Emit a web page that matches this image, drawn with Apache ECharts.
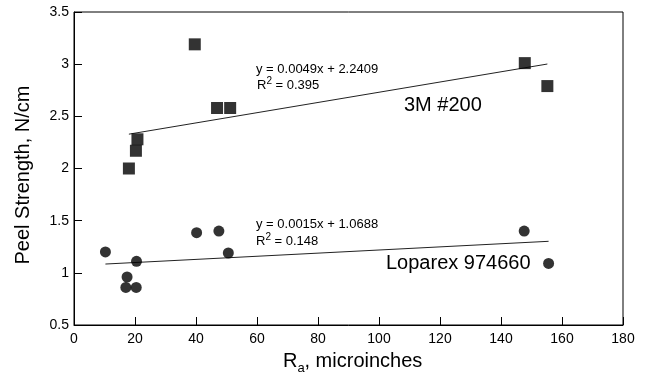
<!DOCTYPE html>
<html>
<head>
<meta charset="utf-8">
<script src="https://cdn.jsdelivr.net/npm/echarts@6/dist/echarts.min.js"></script>
<style>
html,body{margin:0;padding:0;background:#fff;}
#chart{width:649px;height:377px;}
</style>
</head>
<body>
<div id="chart"></div>
<script>
// ---- data ----
var x3M = [18.0, 20.3, 20.8, 39.6, 46.9, 51.2, 147.8, 155.2];
var y3M = [2.00, 2.17, 2.28, 3.19, 2.58, 2.58, 3.01, 2.79];
var xLop = [10.3, 17.4, 17.0, 20.5, 20.4, 40.2, 47.5, 50.6, 147.6, 155.6];
var yLop = [1.20, 0.96, 0.86, 1.11, 0.86, 1.385, 1.40, 1.19, 1.40, 1.09];
// trendline equations shown in the chart
var fit3M = {slope: 0.0049, intercept: 2.2409, r2: '0.395'};
var fitLop = {slope: 0.0015, intercept: 1.0688, r2: '0.148'};
var xTicks = {min: 0, max: 180, interval: 20};
var yTicks = {min: 0.5, max: 3.5, interval: 0.5};

function pairs(xs, ys){ return xs.map(function(v,i){ return [v, ys[i]]; }); }
function fitLine(xs, fit){
  var lo = Math.min.apply(null, xs), hi = Math.max.apply(null, xs);
  return [[lo, fit.slope*lo + fit.intercept], [hi, fit.slope*hi + fit.intercept]];
}

var FONT = '"Liberation Sans", Arial, Helvetica, sans-serif';
var supRich = {
  n: {fontSize: 13, fontFamily: FONT, color: '#000', lineHeight: 16, verticalAlign: 'bottom'},
  sup: {fontSize: 10, fontFamily: FONT, color: '#000', lineHeight: 10, verticalAlign: 'top'}
};
function r2Text(v){ return '{n|R}{sup|2}{n| = ' + v + '}'; }

var chart = echarts.init(document.getElementById('chart'));
chart.setOption({
  animation: false,
  backgroundColor: '#fff',
  textStyle: {fontFamily: FONT},
  grid: {left: 74, right: 26, top: 12, bottom: 52, show: true, borderColor: '#000', borderWidth: 1, backgroundColor: 'transparent'},
  xAxis: {
    type: 'value', min: xTicks.min, max: xTicks.max, interval: xTicks.interval,
    axisLine: {show: true, lineStyle: {color: '#000', width: 1}},
    axisTick: {show: true, inside: true, length: 8, lineStyle: {color: '#000'}},
    axisLabel: {fontSize: 14, color: '#000', margin: 7, fontFamily: FONT},
    splitLine: {show: false}
  },
  yAxis: {
    type: 'value', min: yTicks.min, max: yTicks.max, interval: yTicks.interval,
    axisLine: {show: true, lineStyle: {color: '#000', width: 1}},
    axisTick: {show: true, inside: true, length: 8, lineStyle: {color: '#000'}},
    axisLabel: {fontSize: 14, color: '#000', margin: 5, fontFamily: FONT},
    splitLine: {show: false}
  },
  series: [
    {type: 'line', data: fitLine(x3M, fit3M), symbol: 'none', lineStyle: {color: '#222', width: 1}, z: 1},
    {type: 'line', data: fitLine(xLop, fitLop), symbol: 'none', lineStyle: {color: '#222', width: 1}, z: 1},
    {type: 'scatter', data: pairs(x3M, y3M), symbol: 'rect', symbolSize: 12, itemStyle: {color: '#000'}, z: 3},
    {type: 'scatter', data: pairs(xLop, yLop), symbol: 'circle', symbolSize: 11, itemStyle: {color: '#000'}, z: 3}
  ],
  graphic: [
    {type: 'text', x: 256, y: 69, style: {text: 'y = ' + fit3M.slope + 'x + ' + fit3M.intercept, font: '13px ' + FONT, fill: '#000', textVerticalAlign: 'middle'}},
    {type: 'text', x: 257, y: 84, style: {text: r2Text(fit3M.r2), rich: supRich, textVerticalAlign: 'middle'}},
    {type: 'text', x: 404, y: 105, style: {text: '3M #200', font: '20px ' + FONT, fill: '#000', textVerticalAlign: 'middle'}},
    {type: 'text', x: 256, y: 224, style: {text: 'y = ' + fitLop.slope + 'x + ' + fitLop.intercept, font: '13px ' + FONT, fill: '#000', textVerticalAlign: 'middle'}},
    {type: 'text', x: 256, y: 240, style: {text: r2Text(fitLop.r2), rich: supRich, textVerticalAlign: 'middle'}},
    {type: 'text', x: 386, y: 263, style: {text: 'Loparex 974660', font: '20px ' + FONT, fill: '#000', textVerticalAlign: 'middle'}},
    {type: 'text', x: 23, y: 175, rotation: Math.PI/2, style: {text: 'Peel Strength, N/cm', font: '20px ' + FONT, fill: '#000', textAlign: 'center', textVerticalAlign: 'middle'}},
    {type: 'text', x: 283, y: 361, style: {text: 'R', font: '20px ' + FONT, fill: '#000', textVerticalAlign: 'middle'}},
    {type: 'text', x: 297.5, y: 368, style: {text: 'a', font: '13px ' + FONT, fill: '#000', textVerticalAlign: 'middle'}},
    {type: 'text', x: 304.5, y: 361, style: {text: ', microinches', font: '20px ' + FONT, fill: '#000', textVerticalAlign: 'middle'}}
  ]
});
</script>
</body>
</html>
